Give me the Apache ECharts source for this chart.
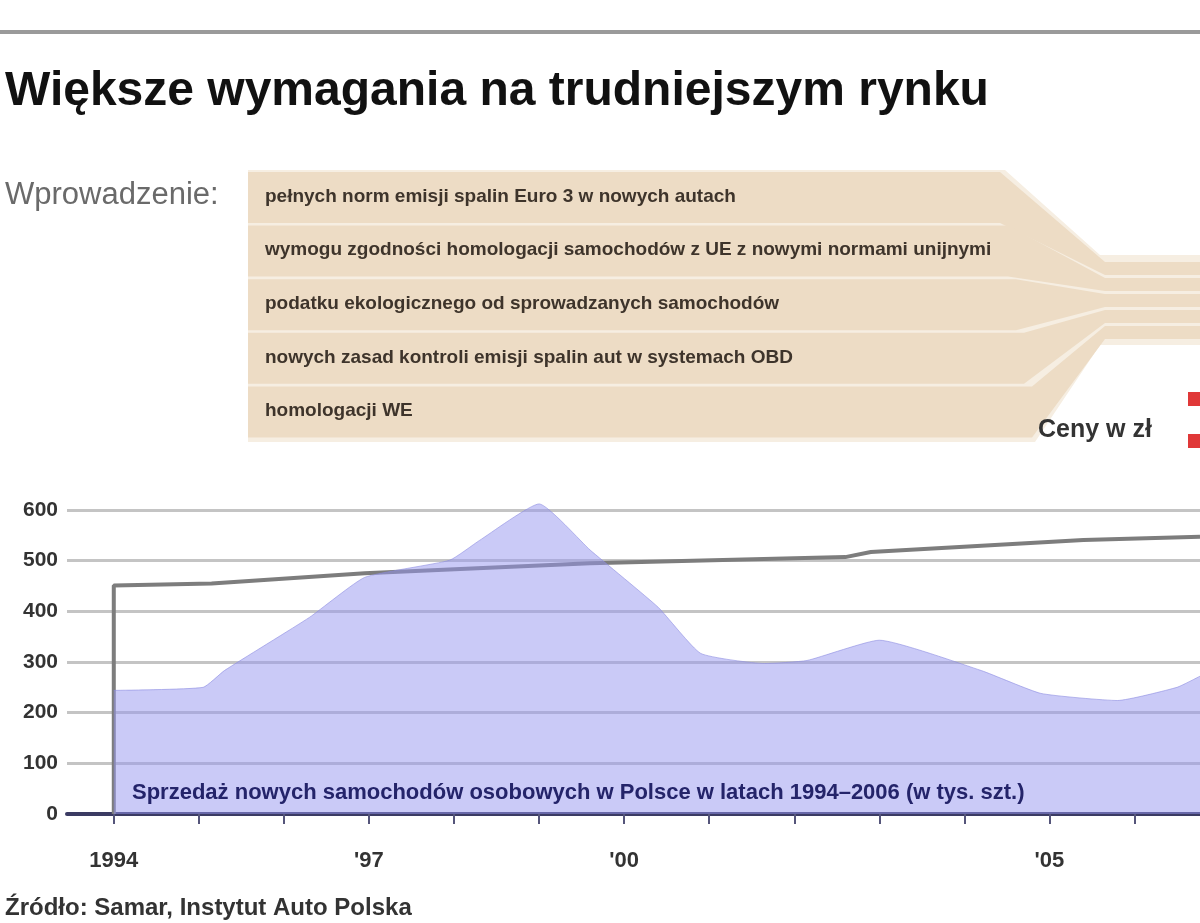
<!DOCTYPE html>
<html lang="pl">
<head>
<meta charset="UTF-8">
<title>Większe wymagania na trudniejszym rynku</title>
<style>
    html,body{
        width: 100%;
        height: 100%;
        margin: 0;
        padding: 0;
        background: #fff;
    }
</style>
</head>
<body>
<div id="main" style="width: 1200px;height:923px;"></div>

<script src="https://cdn.jsdelivr.net/npm/echarts@6/dist/echarts.min.js"></script>
<script>
    // sprzedaż nowych aut (tys. szt.)
    var salesYears = [1994, 1995.05, 1995.3, 1996.3, 1996.95, 1997.95, 1998.3, 1999.0, 1999.6, 2000.4, 2000.9, 2001.65, 2002.15, 2003.0, 2004.2, 2004.9, 2005.8, 2006.5, 2006.77];
    var salesValues = [244, 250, 283, 388, 467, 501, 540, 612, 521, 408, 317, 297, 303, 343, 283, 238, 224, 250, 272];

    // szara linia (cena)
    var priceYears = [1994, 1994, 1995.15, 1996.95, 1999.6, 2002.6, 2002.9, 2005.4, 2006.77];
    var priceValues = [0, 451, 455, 475, 495, 507, 517, 541, 547];

    var tickYears = [1994, 1995, 1996, 1997, 1998, 1999, 2000, 2001, 2002, 2003, 2004, 2005, 2006];
    var labelYears = [1994, 1997, 2000, 2005];

    var items = [
        'pełnych norm emisji spalin Euro 3 w nowych autach',
        'wymogu zgodności homologacji samochodów z UE z nowymi normami unijnymi',
        'podatku ekologicznego od sprowadzanych samochodów',
        'nowych zasad kontroli emisji spalin aut w systemach OBD',
        'homologacji WE'
    ];

    var FONT = '"Liberation Sans", Arial, sans-serif';

    function pairs(xs, ys) {
        return xs.map(function (x, i) { return [x, ys[i]]; });
    }

    // wstęgi z tekstami
    var graphics = [];
    graphics.push({
        type: 'rect', shape: {x: 0, y: 30, width: 1200, height: 4},
        style: {fill: '#9a9a9a'}
    });
    graphics.push({
        type: 'text', left: 5, top: 68,
        style: {text: 'Większe wymagania na trudniejszym rynku', font: 'bold 48px ' + FONT, fill: '#111'}
    });
    graphics.push({
        type: 'text', left: 5, top: 180,
        style: {text: 'Wprowadzenie:', font: '31px ' + FONT, fill: '#6a6a6a'}
    });
    graphics.push({
        type: 'polygon',
        shape: {points: [[248, 170], [1005, 170], [1100, 255], [1200, 255], [1200, 345], [1100, 345], [1035, 442], [248, 442]]},
        style: {fill: '#f6eee2'}
    });
    items.forEach(function (t, i) {
        var top = 172 + 53.6 * i, bot = top + 51;
        var xs = 1000 + 8 * i;
        var rt = 262 + 16 * i, rb = rt + 13;
        graphics.push({
            type: 'polygon',
            shape: {points: [[248, top], [xs, top], [1105, rt], [1200, rt], [1200, rb], [1105, rb], [xs, bot], [248, bot]]},
            style: {fill: '#eddcc5'}
        });
        graphics.push({
            type: 'text', left: 265, top: top + 15,
            style: {text: t, font: 'bold 19px ' + FONT, fill: '#3e342b'}
        });
    });
    graphics.push({
        type: 'text', left: 1038, top: 418,
        style: {text: 'Ceny w zł', font: 'bold 25px ' + FONT, fill: '#333'}
    });
    graphics.push({
        type: 'polygon', shape: {points: [[1188, 392], [1200, 392], [1200, 406], [1188, 406]]},
        style: {fill: '#e03838'}
    });
    graphics.push({
        type: 'polygon', shape: {points: [[1188, 434], [1200, 434], [1200, 448], [1188, 448]]},
        style: {fill: '#e03838'}
    });
    graphics.push({
        type: 'text', left: 132, top: 782, z: 100,
        style: {text: 'Sprzedaż nowych samochodów osobowych w Polsce w latach 1994–2006 (w tys. szt.)', font: 'bold 22px ' + FONT, fill: '#24246a'}
    });
    graphics.push({
        type: 'text', left: 5, top: 896,
        style: {text: 'Źródło: Samar, Instytut Auto Polska', font: 'bold 24px ' + FONT, fill: '#333'}
    });

    var myChart = echarts.init(document.getElementById('main'));
    myChart.setOption({
        animation: false,
        grid: {left: 67, right: 0, top: 510, bottom: 109},
        xAxis: {
            type: 'value',
            min: 1993.45,
            max: 2006.77,
            splitLine: {show: false},
            axisLine: {lineStyle: {color: '#3b3b63', width: 4}},
            axisTick: {
                show: true, length: 10, inside: false,
                customValues: tickYears,
                lineStyle: {color: '#55557a', width: 2}
            },
            axisLabel: {
                customValues: labelYears,
                margin: 36,
                fontFamily: FONT, fontWeight: 'bold', fontSize: 22, color: '#333',
                formatter: function (v) {
                    if (v === 1994) return '1994';
                    return "'" + String(v).slice(2);
                }
            }
        },
        yAxis: {
            type: 'value',
            min: 0,
            max: 600,
            interval: 100,
            axisLine: {show: false},
            axisTick: {show: false},
            axisLabel: {margin: 9, fontFamily: FONT, fontWeight: 'bold', fontSize: 21, color: '#333'},
            splitLine: {lineStyle: {color: '#c4c4c4', width: 3}}
        },
        series: [
            {
                name: 'Ceny w zł',
                type: 'line',
                data: pairs(priceYears, priceValues),
                symbol: 'none',
                lineStyle: {color: '#7d7d7d', width: 4},
                z: 2
            },
            {
                name: 'Sprzedaż',
                type: 'line',
                data: pairs(salesYears, salesValues),
                symbol: 'none',
                smooth: 0.15,
                clip: false,
                lineStyle: {color: 'rgba(140,140,225,0.6)', width: 1},
                areaStyle: {color: 'rgba(150,150,240,0.5)', opacity: 1},
                z: 3
            }
        ],
        graphic: graphics
    });
</script>
</body>
</html>
